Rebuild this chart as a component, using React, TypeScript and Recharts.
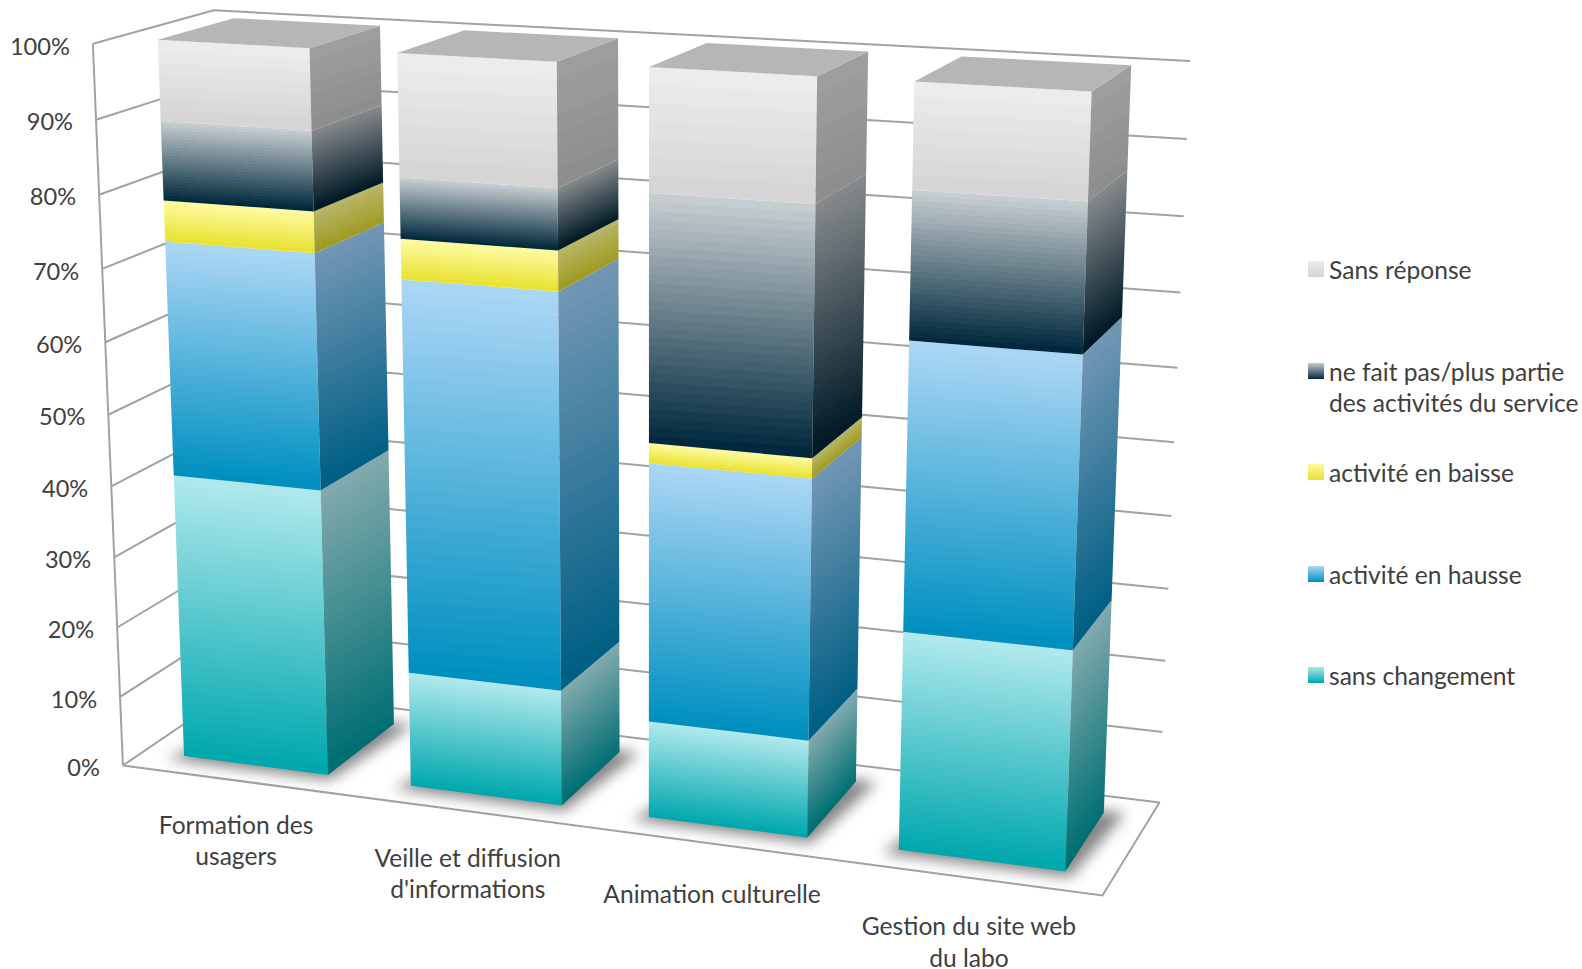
import React from 'react';
import { BarChart, Bar, XAxis, YAxis, Legend, CartesianGrid } from 'recharts';

const categories = ['Formation des usagers', "Veille et diffusion d'informations", 'Animation culturelle', 'Gestion du site web du labo'];
const categoryLines = [['Formation des', 'usagers'], ['Veille et diffusion', "d'informations"], ['Animation culturelle'], ['Gestion du site web', 'du labo']];
const sansChangement = [40.5, 16.2, 13.4, 29.6];
const enHausse = [32.4, 54.1, 35.2, 38];
const enBaisse = [5.6, 5.4, 2.7, 0];
const neFaitPas = [10.7, 8.1, 32.7, 19];
const sansReponse = [10.8, 16.2, 16, 13.4];
const yTicks = [0, 10, 20, 30, 40, 50, 60, 70, 80, 90, 100];

const data = categories.map((name, i) => ({
  name,
  a: sansChangement[i],
  b: enHausse[i],
  c: enBaisse[i],
  d: neFaitPas[i],
  e: sansReponse[i],
}));

const seriesDefs = [
  { key: 'a', name: 'sans changement', front: ['#aee8ec', '#00a8ae'], side: ['#7fa9ac', '#006f73'], bands: 30 },
  { key: 'b', name: 'activité en hausse', front: ['#aad6f5', '#0090c0'], side: ['#7196b3', '#005f85'], bands: 32 },
  { key: 'c', name: 'activité en baisse', front: ['#fdfa9e', '#e9e233'], side: ['#b8b566', '#a09b24'], bands: 10 },
  { key: 'd', name: 'ne fait pas/plus partie des activités du service', front: ['#c6cdd0', '#01293d'], side: ['#84888b', '#001a26'], bands: 28 },
  { key: 'e', name: 'Sans réponse', front: ['#d5d5d5', '#ececec'], side: ['#8e8e8e', '#9e9e9e'], bands: 7, reverse: true },
];

// ---- chart frame
const W = 1582, H = 969, ML = 100, MR = 100, MT = 100, MB = 100;
const PW = W - ML - MR, PH = H - MT - MB;
const FONT = 'Lato, Carlito, sans-serif';
const TXT = '#404040';
const FS = 24.6;
const FS_Y = 23.6;

// ---- perspective camera (world X: 0-4 categories, Y: 0-1 value, Z: 0-1 depth)
const Zf = 0.18, Zb = 0.82;
const CAM = [
  218.87723, -35.095005, 128.60562, 122.90819,
  11.368943, -724.02743, -31.022162, 765.47387,
  -0.023589189, -0.054361848, 0.066324553,
];
function P(X: number, Y: number, Z: number): [number, number] {
  const w = CAM[8] * X + CAM[9] * Y + CAM[10] * Z + 1;
  return [(CAM[0] * X + CAM[1] * Y + CAM[2] * Z + CAM[3]) / w, (CAM[4] * X + CAM[5] * Y + CAM[6] * Z + CAM[7]) / w];
}

const worldX = (px: number) => (px - ML) / (PW / 4);
const worldY = (py: number) => 1 - (py - MT) / PH;
const poly = (pts: [number, number][]) => 'M' + pts.map((p) => p[0].toFixed(2) + ',' + p[1].toFixed(2)).join('L') + 'Z';

function mix(c1: string, c2: string, t: number) {
  const h = (c: string, i: number) => parseInt(c.slice(i, i + 2), 16);
  const v = [1, 3, 5].map((i) => Math.round(h(c1, i) + (h(c2, i) - h(c1, i)) * t));
  return `rgb(${v[0]},${v[1]},${v[2]})`;
}

function BandGradient({ id, pts, colors, bands }: any) {
  const [ta, tb, ba, bb] = pts;
  const mt = [(ta[0] + tb[0]) / 2, (ta[1] + tb[1]) / 2];
  const mb = [(ba[0] + bb[0]) / 2, (ba[1] + bb[1]) / 2];
  const ex = tb[0] - ta[0], ey = tb[1] - ta[1];
  const len = Math.hypot(ex, ey) || 1;
  const nx = -ey / len, ny = ex / len;
  const d = (mb[0] - mt[0]) * nx + (mb[1] - mt[1]) * ny;
  const stops: any[] = [];
  for (let k = 0; k < bands; k++) {
    const c = mix(colors[0], colors[1], bands > 1 ? k / (bands - 1) : 0);
    stops.push(<stop key={k + 'a'} offset={k / bands} stopColor={c} />);
    stops.push(<stop key={k + 'b'} offset={(k + 1) / bands} stopColor={c} />);
  }
  return (
    <linearGradient id={id} gradientUnits="userSpaceOnUse" x1={mt[0]} y1={mt[1]} x2={mt[0] + nx * d} y2={mt[1] + ny * d}>
      {stops}
    </linearGradient>
  );
}

function Box3D(props: any) {
  const { x, y, width, height, index, seriesIndex } = props;
  if (!(height > 0.01)) return <g />;
  const def = seriesDefs[seriesIndex];
  const x0 = worldX(x), x1 = worldX(x + width);
  const yt = worldY(y), yb = worldY(y + height);
  const f = [P(x0, yt, Zf), P(x1, yt, Zf), P(x0, yb, Zf), P(x1, yb, Zf)];
  const s = [P(x1, yt, Zf), P(x1, yt, Zb), P(x1, yb, Zf), P(x1, yb, Zb)];
  const frontC = def.reverse ? [def.front[1], def.front[0]] : def.front;
  const sideC = def.reverse ? [def.side[1], def.side[0]] : def.side;
  const idF = `f${seriesIndex}-${index}`, idS = `s${seriesIndex}-${index}`;
  return (
    <g>
      <defs>
        <BandGradient id={idF} pts={f} colors={frontC} bands={def.bands} />
        <BandGradient id={idS} pts={s} colors={sideC} bands={def.bands} />
      </defs>
      {seriesIndex === 0 && (
        <path
          d={poly([P(x0 - 0.05, 0, Zf - 0.05), P(x1 + 0.03, 0, Zf - 0.05), P(x1 + 0.08, 0, Zb + 0.02), P(x0 + 0.1, 0, Zb)])}
          fill="#3a3a3a"
          fillOpacity={0.62}
          style={{ filter: 'blur(7px)' }}
        />
      )}
      <path d={poly([f[0], f[1], f[3], f[2]])} fill={`url(#${idF})`} />
      <path d={poly([s[0], s[1], s[3], s[2]])} fill={`url(#${idS})`} />
      {seriesIndex === seriesDefs.length - 1 && (
        <path d={poly([P(x0, yt, Zf), P(x1, yt, Zf), P(x1, yt, Zb), P(x0, yt, Zb)])} fill="#b6b6b6" />
      )}
    </g>
  );
}

const GRID = { stroke: '#a2a2a2', strokeWidth: 2, fill: 'none' };
const line = (pts: [number, number][]) => 'M' + pts.map((p) => p.join(',')).join('L');

function GridLine(props: any) {
  const Y = worldY(props.y1);
  const a = P(0, Y, 0), b = P(0, Y, 1), c = P(4, Y, 1);
  return (
    <g>
      <path d={line([a, b, c])} {...GRID} />
      {Math.abs(Y) < 1e-6 && <path d={line([P(0, 0, 0), P(4, 0, 0), P(4, 0, 1)])} {...GRID} />}
      {Math.abs(Y - 1) < 1e-6 && <path d={line([P(0, 0, 0), P(0, 1, 0)])} {...GRID} />}
    </g>
  );
}

function YTick(props: any) {
  const { y, payload } = props;
  const a = P(0, worldY(y), 0);
  return (
    <text x={a[0] - 23} y={a[1] + 2.5} dy="0.35em" textAnchor="end" fontFamily={FONT} fontSize={FS_Y} fill={TXT}>
      {payload.value}%
    </text>
  );
}

const labelDx = [1, 0, 0, 0];
const labelDy = [45, 47, 51, 49];
function XTick(props: any) {
  const { x, index } = props;
  const p = P(worldX(x), 0, 0);
  const lines = categoryLines[index] || [];
  return (
    <text x={p[0] + labelDx[index]} y={p[1] + labelDy[index]} textAnchor="middle" fontFamily={FONT} fontSize={FS} fill={TXT}>
      {lines.map((l: string, i: number) => (
        <tspan key={i} x={p[0] + labelDx[index]} dy={i === 0 ? '0.35em' : 31.5}>
          {l}
        </tspan>
      ))}
    </text>
  );
}

function LegendBox() {
  const items = [...seriesDefs].reverse();
  return (
    <div style={{ fontFamily: FONT, fontSize: FS, color: TXT }}>
      {items.map((d) => {
        const c = d.reverse ? [d.front[1], d.front[0]] : d.front;
        return (
          <div key={d.key} style={{ height: 101.5, display: 'flex', alignItems: 'flex-start' }}>
            <div style={{ width: 16, height: 16, marginTop: 7, marginRight: 5, background: `linear-gradient(${c[0]}, ${c[1]})` }} />
            <div style={{ width: 252, lineHeight: '31.5px' }}>{d.name}</div>
          </div>
        );
      })}
    </div>
  );
}

export default function App() {
  return (
    <div style={{ position: 'absolute', left: 0, top: 0, width: W, height: H }}>
      <BarChart width={W} height={H} data={data} margin={{ top: MT, right: MR, bottom: MB - 1, left: ML - 1 }} barCategoryGap="18%">
        <CartesianGrid vertical={false} horizontal={(p: any) => <GridLine key={p.key} {...p} />} />
        <YAxis width={1} domain={[0, 100]} ticks={yTicks} interval={0} axisLine={false} tickLine={false} tick={<YTick />} />
        <XAxis height={1} dataKey="name" interval={0} axisLine={false} tickLine={false} tick={<XTick />} />
        {seriesDefs.map((d, i) => (
          <Bar
            key={d.key}
            dataKey={d.key}
            name={d.name}
            stackId="s"
            isAnimationActive={false}
            shape={(p: any) => <Box3D {...p} seriesIndex={i} />}
          />
        ))}
        <Legend
          layout="vertical"
          align="center"
          verticalAlign="middle"
          content={<LegendBox />}
          wrapperStyle={{ position: 'absolute', left: 1308, top: 254, width: 274, bottom: 'auto', right: 'auto' }}
        />
      </BarChart>
    </div>
  );
}
